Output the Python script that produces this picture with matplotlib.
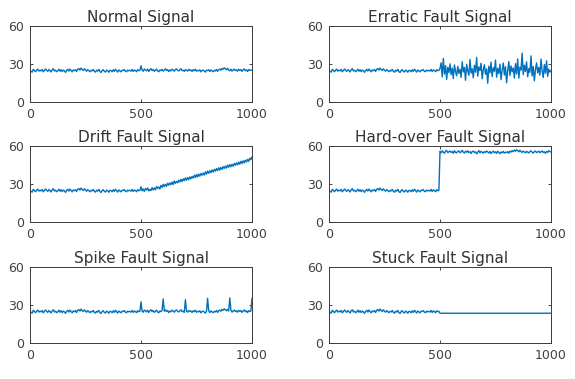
import matplotlib
matplotlib.use("Agg")
import matplotlib.pyplot as plt

# sample index (every 5th sample of a 1000-sample record)
sample_first = list(range(0, 500, 5))
sample_second = list(range(500, 1001, 5))

titles = ["Normal Signal", "Erratic Fault Signal", "Drift Fault Signal",
          "Hard-over Fault Signal", "Spike Fault Signal", "Stuck Fault Signal"]
x_ticks = [0, 500, 1000]
y_ticks = [0, 30, 60]

normal_first = [
    25.3, 24.1, 23.6, 25.8, 24.9, 23.9, 25.2, 26.0, 24.4, 25.1,
    24.6, 25.7, 23.8, 24.9, 26.1, 25.0, 24.2, 25.6, 24.8, 23.7,
    25.4, 26.3, 24.5, 25.1, 23.9, 24.7, 25.9, 24.3, 25.5, 24.0,
    25.2, 24.6, 23.4, 25.0, 25.8, 24.4, 26.0, 24.9, 23.8, 25.3,
    24.7, 25.6, 24.1, 25.9, 26.4, 25.2, 26.8, 25.7, 24.9, 26.2,
    25.1, 24.3, 25.6, 24.8, 23.9, 25.0, 24.5, 25.7, 24.2, 23.6,
    25.1, 24.4, 25.8, 24.0, 23.3, 24.9, 25.5, 24.1, 23.7, 25.2,
    24.6, 23.5, 25.0, 24.8, 23.9, 25.4, 24.2, 25.9, 24.7, 23.6,
    25.3, 24.5, 23.8, 25.1, 24.9, 25.6, 24.3, 23.9, 25.2, 24.6,
    25.0, 24.4, 25.7, 24.1, 25.3, 24.8, 23.9, 25.5, 24.7, 25.0]

normal_second = [
    28.6, 25.2, 24.3, 26.1, 25.4, 24.6, 25.9, 24.1, 25.5, 26.3,
    24.8, 25.7, 24.2, 25.0, 26.0, 24.5, 23.9, 25.3, 24.7, 25.8,
    24.4, 25.1, 26.2, 24.9, 25.6, 24.0, 25.3, 24.6, 25.9, 25.2,
    24.3, 25.7, 26.1, 25.0, 24.5, 25.4, 26.3, 24.8, 25.1, 24.2,
    25.6, 25.0, 24.4, 25.8, 24.9, 25.3, 24.1, 25.5, 24.7, 25.9,
    24.3, 25.0, 24.6, 25.4, 23.8, 24.9, 25.2, 24.4, 23.6, 25.1,
    24.8, 25.5, 24.0, 25.3, 24.6, 23.9, 25.0, 24.5, 25.7, 24.2,
    25.4, 26.0, 25.1, 26.5, 25.8, 27.0, 26.2, 25.4, 26.6, 25.3,
    24.7, 25.9, 24.4, 25.2, 26.0, 24.8, 25.5, 24.3, 25.8, 24.9,
    25.6, 24.2, 25.3, 26.1, 24.7, 25.4, 24.0, 25.6, 24.9, 25.3, 25.1]

erratic_second = [
    26.5, 31.0, 19.8, 34.5, 22.1, 28.7, 17.9, 27.4, 23.2, 30.1,
    21.5, 26.8, 18.6, 29.3, 24.0, 20.7, 28.1, 22.6, 25.9, 19.4,
    31.8, 23.7, 27.2, 17.2, 29.8, 24.6, 21.0, 33.6, 22.8, 26.3,
    19.1, 28.9, 23.5, 35.2, 20.4, 27.7, 24.9, 30.6, 18.3, 25.5,
    29.4, 21.9, 26.1, 14.8, 28.3, 23.0, 31.4, 20.1, 27.0, 24.3,
    33.1, 19.6, 26.6, 22.4, 29.9, 17.6, 25.1, 30.8, 21.3, 27.9,
    15.2, 24.7, 32.0, 20.9, 28.5, 23.8, 26.9, 19.0, 30.3, 22.2,
    34.0, 18.8, 27.5, 25.2, 38.6, 21.6, 29.1, 24.1, 31.7, 19.9,
    26.4, 23.3, 36.4, 20.6, 28.0, 16.7, 25.7, 30.9, 22.9, 27.3,
    21.2, 33.9, 24.4, 19.3, 29.6, 22.7, 32.5, 20.2, 26.0, 23.6, 24.8]

drift_second = [
    27.8, 24.6, 26.1, 24.2, 26.4, 25.3, 26.9, 24.5, 25.8, 24.8,
    27.1, 25.3, 26.9, 25.4, 28.0, 26.5, 27.6, 26.1, 28.9, 27.3,
    29.7, 27.9, 29.8, 28.2, 30.6, 29.0, 30.9, 29.4, 31.5, 29.6,
    32.4, 30.5, 32.1, 31.0, 33.0, 31.6, 33.7, 32.0, 34.1, 32.6,
    34.9, 33.0, 35.1, 33.4, 35.6, 34.1, 36.0, 34.6, 36.9, 35.2,
    37.5, 35.6, 37.8, 36.2, 38.3, 36.9, 38.6, 37.1, 39.6, 37.8,
    40.2, 38.4, 40.5, 39.0, 41.1, 39.5, 41.6, 40.1, 42.2, 40.6,
    42.8, 41.0, 43.1, 41.5, 43.7, 42.2, 44.2, 42.6, 44.9, 43.2,
    45.3, 43.6, 45.6, 44.0, 46.2, 44.8, 46.7, 45.1, 47.3, 45.7,
    47.9, 46.2, 48.3, 46.7, 48.8, 47.4, 49.5, 47.9, 50.4, 49.2, 51.3]

hardover_second = [
    55.8, 54.6, 56.2, 55.1, 54.3, 55.9, 56.5, 54.8, 55.4, 56.0,
    54.9, 55.7, 54.2, 56.3, 55.0, 54.5, 55.8, 56.1, 54.7, 55.3,
    56.6, 55.2, 54.4, 55.9, 55.1, 56.2, 54.8, 55.5, 54.1, 55.7,
    56.0, 54.9, 55.4, 53.8, 55.2, 56.3, 54.6, 55.8, 55.0, 54.3,
    55.6, 54.9, 56.1, 55.3, 54.5, 55.7, 54.0, 55.2, 56.0, 54.7,
    55.4, 54.2, 55.9, 55.0, 53.9, 55.3, 54.6, 55.8, 54.4, 55.1,
    54.8, 55.6, 54.3, 55.9, 55.2, 56.4, 55.5, 56.8, 55.9, 57.1,
    56.2, 55.4, 56.7, 55.6, 54.9, 56.0, 55.3, 54.6, 55.8, 55.1,
    54.5, 55.7, 56.2, 55.0, 54.4, 55.6, 56.0, 54.8, 55.3, 55.9,
    54.7, 55.5, 56.1, 54.9, 55.4, 54.2, 55.8, 55.0, 56.3, 55.6, 55.2]

spike_positions = [500, 600, 700, 800, 900, 1000]
spike_values = [32.5, 34.8, 34.2, 35.3, 35.6, 35.2]

stuck_value = 23.5

# assemble each signal from the read values
normal = normal_first + normal_second
erratic = normal_first + erratic_second
drift = normal_first + drift_second
hardover = normal_first + hardover_second
spike_second = list(normal_second)
for p, v in zip(spike_positions, spike_values):
    spike_second[sample_second.index(p)] = v
spike = normal_first + spike_second
stuck = normal_first + [stuck_value] * len(sample_second)

samples = sample_first + sample_second
signals = [normal, erratic, drift, hardover, spike, stuck]

plt.rcParams['font.family'] = ['DejaVu Sans']
fig = plt.figure(figsize=(5.75, 3.79), dpi=100)

lefts = [30 / 575, 329 / 575]
width = 222 / 575
bottoms = [1 - 102 / 379, 1 - 222 / 379, 1 - 343 / 379]
height = 76 / 379

edge = '#262626'
for i, (sig, title) in enumerate(zip(signals, titles)):
    r, c = divmod(i, 2)
    ax = fig.add_axes([lefts[c], bottoms[r], width, height])
    ax.plot(samples, sig, color='#0072BD', lw=1.0)
    ax.set_xlim(0, 1000)
    ax.set_ylim(0, 60)
    ax.set_xticks(x_ticks)
    ax.set_yticks(y_ticks)
    ax.set_title(title, fontsize=11, color='#333333', pad=3)
    ax.tick_params(direction='in', top=True, right=True, length=2.5,
                   width=0.6, colors=edge, labelsize=9, labelcolor='#404040',
                   pad=4)
    for s in ax.spines.values():
        s.set_color('#3a3a3a')
        s.set_linewidth(0.7)

fig.savefig('out.png', dpi=100)
